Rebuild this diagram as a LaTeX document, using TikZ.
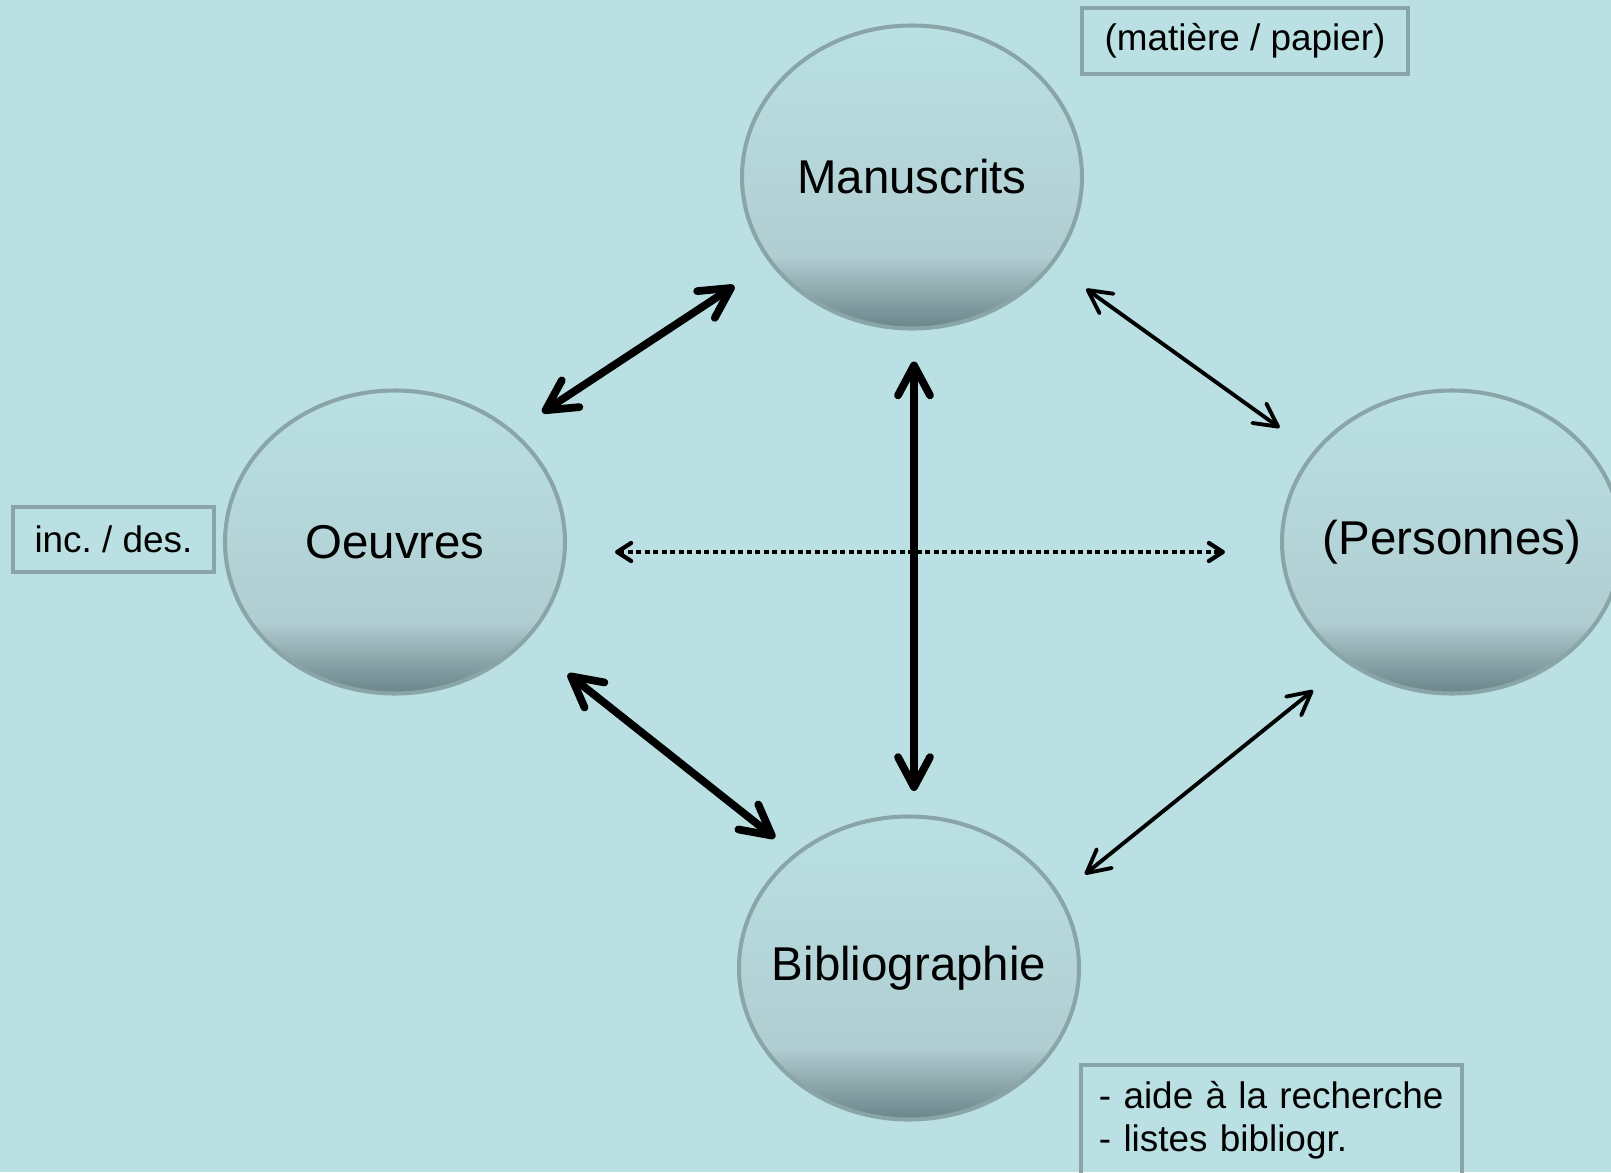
\documentclass[tikz,border=0pt]{standalone}
\usepackage{fontspec}
\setmainfont{Liberation Sans}
\usetikzlibrary{shapes.geometric,arrows.meta}

\definecolor{bgcyan}{RGB}{186,224,227}
\definecolor{rimgrey}{RGB}{138,165,168}
\definecolor{bubtop}{RGB}{185,224,227}
\definecolor{bubmid}{RGB}{177,206,210}
\definecolor{bublow}{RGB}{142,168,172}
\definecolor{bubbot}{RGB}{106,134,138}

\pgfdeclareverticalshading{bubble}{100bp}{color(0bp)=(bubbot); color(25bp)=(bubbot); color(31bp)=(bublow); color(37bp)=(bubmid); color(75bp)=(bubtop); color(100bp)=(bubtop)}

\tikzset{
    topic/.style={ellipse, draw=rimgrey, line width=1.15pt, shade, shading=bubble, minimum width=3.4cm, minimum height=3.03cm, inner xsep=-0.6cm, inner ysep=0pt, font=\fontsize{13.5}{16}\selectfont},
    notebox/.style={rectangle, draw=rimgrey, line width=1.1pt, inner sep=0pt, font=\fontsize{10.5}{12.2}\selectfont},
    bigarrow/.style={line width=2.2pt, line cap=round, >={Straight Barb[round,length=3mm,width=3.2mm]}, <->},
    thinarrow/.style={line width=1.1pt, line cap=round, >={Straight Barb[round,length=2.3mm,width=2.4mm]}, <->},
    dotarrow/.style={line width=1.2pt, dash pattern=on 0.05cm off 0.035cm, >={Straight Barb[round,length=1.4mm,width=1.8mm]}, <->}
}

\begin{document}
\frenchspacing
\begin{tikzpicture}
        \clip (0,0) rectangle (16.11,-11.72);
        \fill[bgcyan] (0,0) rectangle (16.11,-11.72);

        \node[topic] (man) at (9.12,-1.77) {Manuscrits};
        \node[topic] (oeu) at (3.95,-5.42) {Oeuvres};
        \node[topic] (per) at (14.52,-5.42) {(Personnes)};
        \node[topic] (bib) at (9.09,-9.68) {Bibliographie};

        \node[notebox, minimum width=3.26cm, minimum height=0.66cm] (mat) at (12.45,-0.41) {(matière / papier)};
        \node[notebox, minimum width=2.01cm, minimum height=0.65cm] (inc) at (1.135,-5.395) {inc. / des.};
        \node[notebox, anchor=north west, minimum width=3.81cm, minimum height=1.11cm, inner xsep=0.18cm, text width=3.45cm, align=left] (aide) at (10.79,-10.63) {- aide à la recherche\\- listes bibliogr.};

        \draw[bigarrow, shorten <=0.34cm, shorten >=0.42cm] (oeu.43) -- (man.211);
        \draw[thinarrow, shorten <=0.41cm, shorten >=0.41cm] (man.328) -- (per.147);
        \draw[bigarrow, shorten <=0.31cm, shorten >=0.235cm] ([xshift=0.02cm]man.south) -- ([xshift=0.05cm]bib.north);
        \draw[dotarrow, shorten <=0.48cm, shorten >=0.55cm] ([yshift=-0.1cm]oeu.east) -- ([yshift=-0.1cm]per.west);
        \draw[bigarrow, shorten <=0.53cm, shorten >=0.25cm] (oeu.323) -- (bib.135);
        \draw[thinarrow, shorten <=0.32cm, shorten >=0.43cm] (bib.26) -- (per.229);
    \end{tikzpicture}
\end{document}
